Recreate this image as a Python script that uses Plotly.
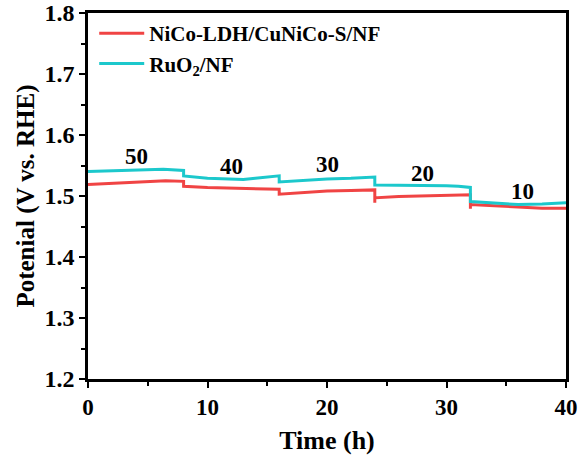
import plotly.graph_objects as go

# Time (h) and potential (V vs. RHE)
ldh_t = [0, 2, 4, 6.5, 8, 8, 10, 12, 14, 16, 16, 18, 20, 22, 24, 24, 24, 24, 26, 28, 30, 32, 32, 32, 32, 34, 36, 38, 40]
ldh_v = [1.519, 1.521, 1.523, 1.525, 1.524, 1.516, 1.514, 1.513, 1.512, 1.511, 1.503, 1.506, 1.508, 1.509, 1.510, 1.489, 1.497, 1.497, 1.499, 1.500, 1.501, 1.502, 1.479, 1.486, 1.486, 1.484, 1.482, 1.480, 1.480]

ruo_t = [0, 2, 4, 6.3, 8, 8, 10, 12, 13, 14, 16, 16, 18, 20, 22, 24, 24, 26, 28, 30, 31, 32, 32, 34, 36, 38, 40]
ruo_v = [1.540, 1.541, 1.543, 1.544, 1.542, 1.533, 1.529, 1.527, 1.527, 1.529, 1.533, 1.523, 1.526, 1.528, 1.529, 1.531, 1.518, 1.518, 1.518, 1.517, 1.516, 1.514, 1.491, 1.488, 1.486, 1.487, 1.489]

label_t = [4.1, 12.0, 20.0, 28.0, 36.4]
label_v = [1.565, 1.549, 1.551, 1.537, 1.507]
label_txt = ["50", "40", "30", "20", "10"]

font = "Liberation Serif"

def bfont(size):
    return dict(family=font, size=size, color="black", weight="bold")

fig = go.Figure()
fig.add_trace(go.Scatter(x=ldh_t, y=ldh_v, mode="lines", name="NiCo-LDH/CuNiCo-S/NF",
                         line=dict(color="#F04444", width=3)))
fig.add_trace(go.Scatter(x=ruo_t, y=ruo_v, mode="lines", name="RuO<sub>2</sub>/NF",
                         line=dict(color="#1CC8CC", width=3)))

for t, v, s in zip(label_t, label_v, label_txt):
    fig.add_annotation(x=t, y=v, text=s, showarrow=False, font=bfont(23))

axis_common = dict(showgrid=False, zeroline=False, showline=True, linecolor="black", linewidth=2.5,
                   ticks="outside", ticklen=6, tickwidth=2, tickcolor="black", mirror=True,
                   automargin=False, ticklabeloverflow="allow")

fig.update_layout(
    width=581, height=461,
    margin=dict(l=88, r=15, t=13, b=82),
    plot_bgcolor="white", paper_bgcolor="white",
    showlegend=True,
    legend=dict(x=0.013, y=1.0, xanchor="left", yanchor="top", bgcolor="rgba(0,0,0,0)",
                font=bfont(21), tracegroupgap=0, itemwidth=45),
    xaxis=dict(range=[0, 40], dtick=10, tickformat="d", tickfont=bfont(23),
               minor=dict(dtick=5, ticks="outside", ticklen=4, tickwidth=2, tickcolor="black"),
               title=dict(text="Time (h)", font=bfont(26), standoff=12),
               **axis_common),
    yaxis=dict(range=[1.2, 1.8], dtick=0.1, tickformat=".1f", tickfont=bfont(24),
               minor=dict(dtick=0.05, ticks="outside", ticklen=4, tickwidth=2, tickcolor="black"),
               title=dict(text="Potenial (V vs. RHE)", font=bfont(25), standoff=3),
               **axis_common),
)

# remove the page's default body margin so the figure sits at the window's corner
fig.write_html("out.html", config={"displayModeBar": False},
               post_script="document.body.style.margin='0';")
